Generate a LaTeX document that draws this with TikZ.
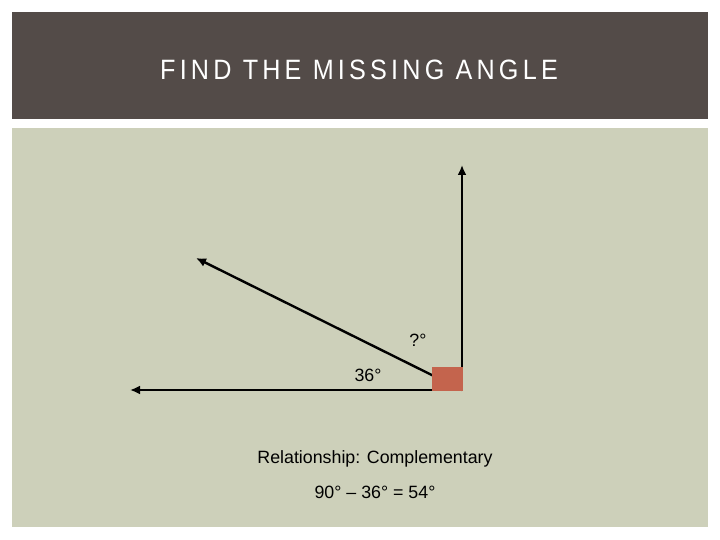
\documentclass[tikz,border=0pt]{standalone}
\usepackage{fontspec}
\setmainfont{Liberation Sans}
\newfontfamily\titlefont[LetterSpace=15,FakeStretch=0.9]{Liberation Sans}
\usetikzlibrary{arrows.meta}
\definecolor{headbg}{RGB}{83,75,72}
\definecolor{panelbg}{RGB}{205,208,186}
\definecolor{cornerred}{RGB}{196,100,77}
\tikzstyle{ray} = [line width=2.4bp,-{Latex[length=10bp,width=9bp]}]
\tikzstyle{lbl} = [inner sep=0pt,font=\fontsize{17.8bp}{21bp}\selectfont]
\begin{document}
\begin{tikzpicture}[x=1bp,y=-1bp]

\useasboundingbox[fill=white] (0,0) rectangle (720,540);

% header and panel
\fill[headbg] (12,12) rectangle (708,119);
\fill[panelbg] (12,128) rectangle (708,527);
\node[text=white,inner sep=0pt,font=\titlefont\fontsize{28bp}{32bp}\selectfont] (title) at (359,70) {FIND THE MISSING ANGLE};

% the angle
\coordinate (V) at (462,390);
\coordinate (up) at (462,165);
\coordinate (left) at (130,390);
\coordinate (slant) at (196,258);

\draw[ray] (V) -- (up);
\draw[ray] (V) -- (left);
\draw[ray] (V) -- (slant);

\node[fill=cornerred,minimum width=31bp,minimum height=24bp,inner sep=0pt,anchor=south east] (corner) at (463,391) {};

\node[lbl] (q) at (418,340) {?°};
\node[lbl] (a36) at (368,375) {36°};

\node[lbl] (rel) at (375,459) {Relationship: Complementary};
\node[lbl] (calc) at (375,492) {90° – 36° = 54°};

\end{tikzpicture}
\end{document}
